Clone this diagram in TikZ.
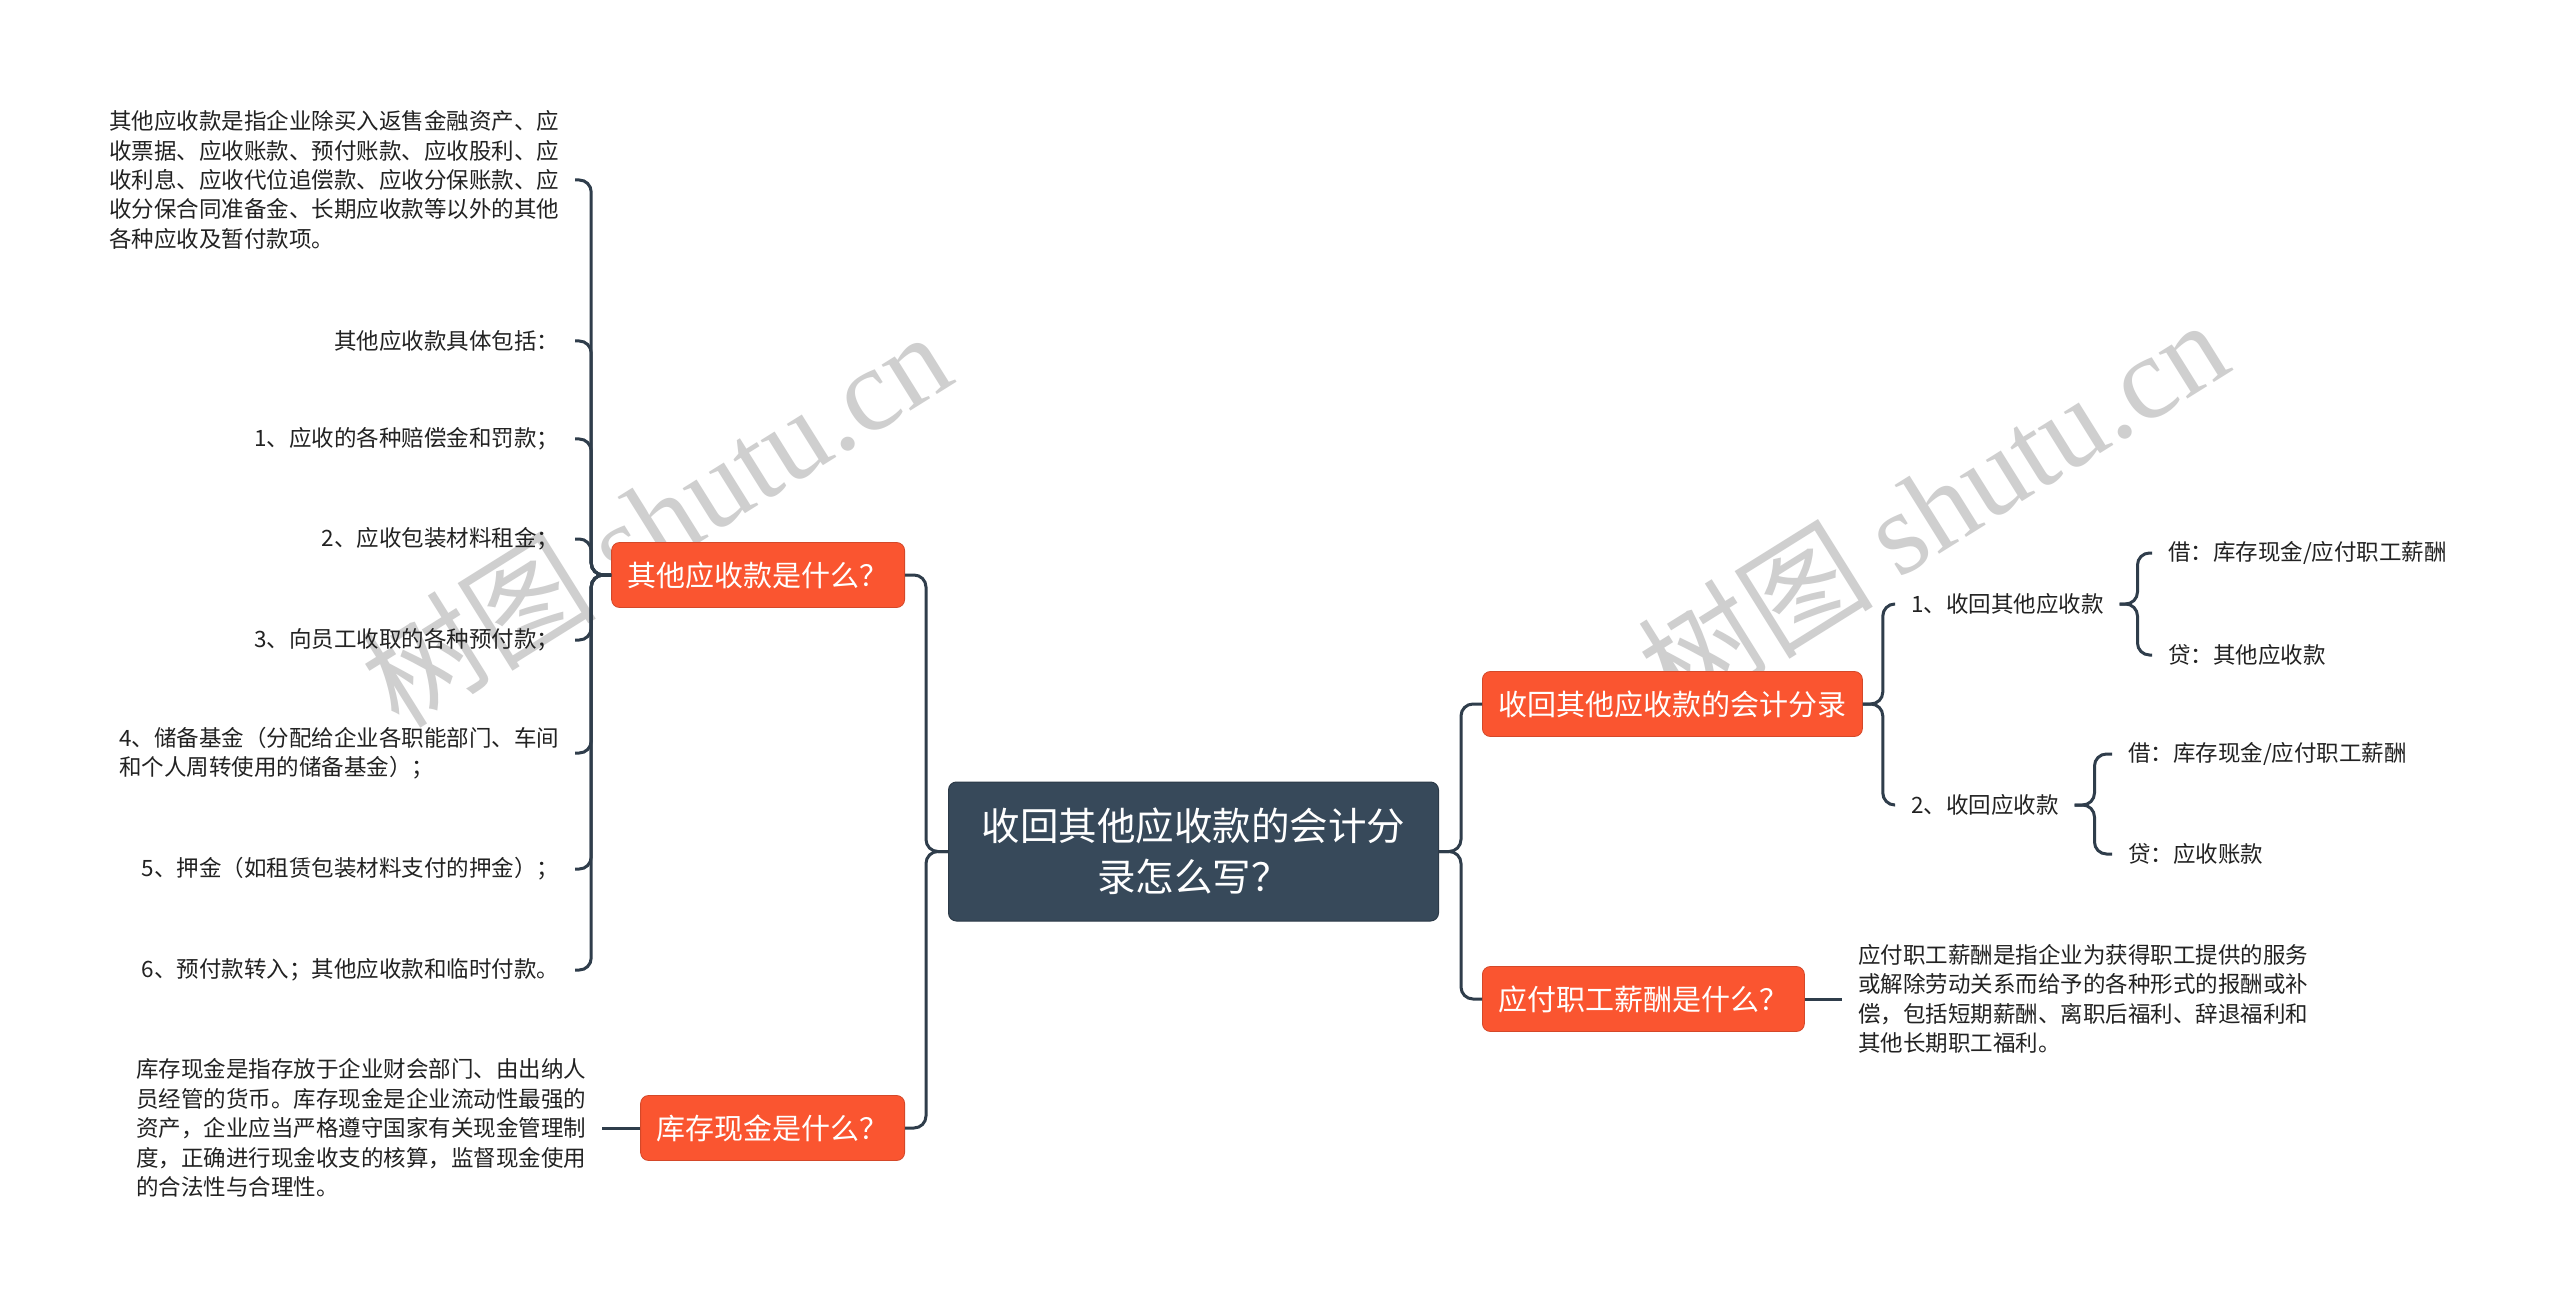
\documentclass[tikz,border=0pt]{standalone}
\usepackage{fontspec}
\setmainfont{Noto Sans CJK SC}
\newfontfamily\wmserif{Liberation Serif}
\definecolor{orangebox}{HTML}{FA5530}
\definecolor{darkbox}{HTML}{37495A}
\definecolor{conncol}{HTML}{2F3D4B}
\definecolor{txt}{HTML}{222222}
\begin{document}
\begin{tikzpicture}[x=0.5pt,y=-0.5pt,
  conn/.style={draw=conncol, line width=1.5pt, rounded corners=6pt},
  rootbox/.style={fill=darkbox, draw=darkbox!80!black, line width=0.5pt, rounded corners=4pt, text=white, font=\fontsize{19.25pt}{25.5pt}\selectfont, align=center, minimum width=245pt, minimum height=69.5pt, inner sep=0pt},
  topic/.style={fill=orangebox, draw=orangebox!85!black, line width=0.4pt, rounded corners=4pt, text=white, font=\fontsize{14.5pt}{18pt}\selectfont, minimum height=32.5pt, inner xsep=8pt, inner ysep=0pt},
  leaf/.style={text=txt, font=\fontsize{11.25pt}{14.7pt}\selectfont, inner sep=0pt, outer xsep=8pt, align=left},
  wm/.style={text=black!19, rotate=32, font=\fontsize{59pt}{59pt}\selectfont, inner sep=0pt}
]
\fill[white] (0,0) rectangle (2560,1310);
\useasboundingbox (0,0) rectangle (2560,1310);

% watermarks
\node[wm] (wm1) at (655,518) {树图 {\wmserif shutu.cn}};
\node[wm] (wm2) at (1932,506) {树图 {\wmserif shutu.cn}};

% root
\node[rootbox] (root) at (1193.5,851.5) {收回其他应收款的会计分\\录怎么写？};

% topics
\node[topic, anchor=east] (lo1) at (905,575) {其他应收款是什么？};
\node[topic, anchor=east] (lo2) at (905,1128) {库存现金是什么？};
\node[topic, anchor=west] (ro1) at (1482,704) {收回其他应收款的会计分录};
\node[topic, anchor=west] (ro2) at (1482,999) {应付职工薪酬是什么？};

% left leaves
\node[leaf, anchor=east] (L1) at (575,180) {其他应收款是指企业除买入返售金融资产、应\\收票据、应收账款、预付账款、应收股利、应\\收利息、应收代位追偿款、应收分保账款、应\\收分保合同准备金、长期应收款等以外的其他\\各种应收及暂付款项。};
\node[leaf, anchor=east] (L2) at (575,341) {其他应收款具体包括：};
\node[leaf, anchor=east] (L3) at (575,439) {1、应收的各种赔偿金和罚款；};
\node[leaf, anchor=east] (L4) at (575,539) {2、应收包装材料租金；};
\node[leaf, anchor=east] (L5) at (575,640) {3、向员工收取的各种预付款；};
\node[leaf, anchor=east] (L6) at (575,753) {4、储备基金（分配给企业各职能部门、车间\\和个人周转使用的储备基金）；};
\node[leaf, anchor=east] (L7) at (575,869) {5、押金（如租赁包装材料支付的押金）；};
\node[leaf, anchor=east] (L8) at (575,970) {6、预付款转入；其他应收款和临时付款。};

\node[leaf, anchor=east] (LP) at (602,1128) {库存现金是指存放于企业财会部门、由出纳人\\员经管的货币。库存现金是企业流动性最强的\\资产，企业应当严格遵守国家有关现金管理制\\度，正确进行现金收支的核算，监督现金使用\\的合法性与合理性。};

% right leaves
\node[leaf, anchor=west] (rc1) at (1895,604) {1、收回其他应收款};
\node[leaf, anchor=west] (rc2) at (1895,805) {2、收回应收款};
\node[leaf, anchor=west] (g11) at (2152,553) {借：库存现金/应付职工薪酬};
\node[leaf, anchor=west] (g12) at (2152,655) {贷：其他应收款};
\node[leaf, anchor=west] (g21) at (2112,754) {借：库存现金/应付职工薪酬};
\node[leaf, anchor=west] (g22) at (2112,854) {贷：应收账款};

\node[leaf, anchor=west] (RP) at (1842,999) {应付职工薪酬是指企业为获得职工提供的服务\\或解除劳动关系而给予的各种形式的报酬或补\\偿，包括短期薪酬、离职后福利、辞退福利和\\其他长期职工福利。};

% connectors
\foreach \t in {lo1,lo2} \draw[conn] (root.west) -- ++(-22,0) |- (\t.east);
\foreach \t in {ro1,ro2} \draw[conn] (root.east) -- ++(22,0) |- (\t.west);
\foreach \t in {L1,L2,L3,L4,L5,L6,L7,L8} \draw[conn] (lo1.west) -- ++(-20,0) |- (\t.east);
\draw[conn] (lo2.west) -- (LP.east);
\foreach \t in {rc1,rc2} \draw[conn] (ro1.east) -- ++(20,0) |- (\t.west);
\foreach \t in {g11,g12} \draw[conn] (rc1.east) -- ++(18,0) |- (\t.west);
\foreach \t in {g21,g22} \draw[conn] (rc2.east) -- ++(20,0) |- (\t.west);
\draw[conn] (ro2.east) -- (RP.west);
\end{tikzpicture}
\end{document}
